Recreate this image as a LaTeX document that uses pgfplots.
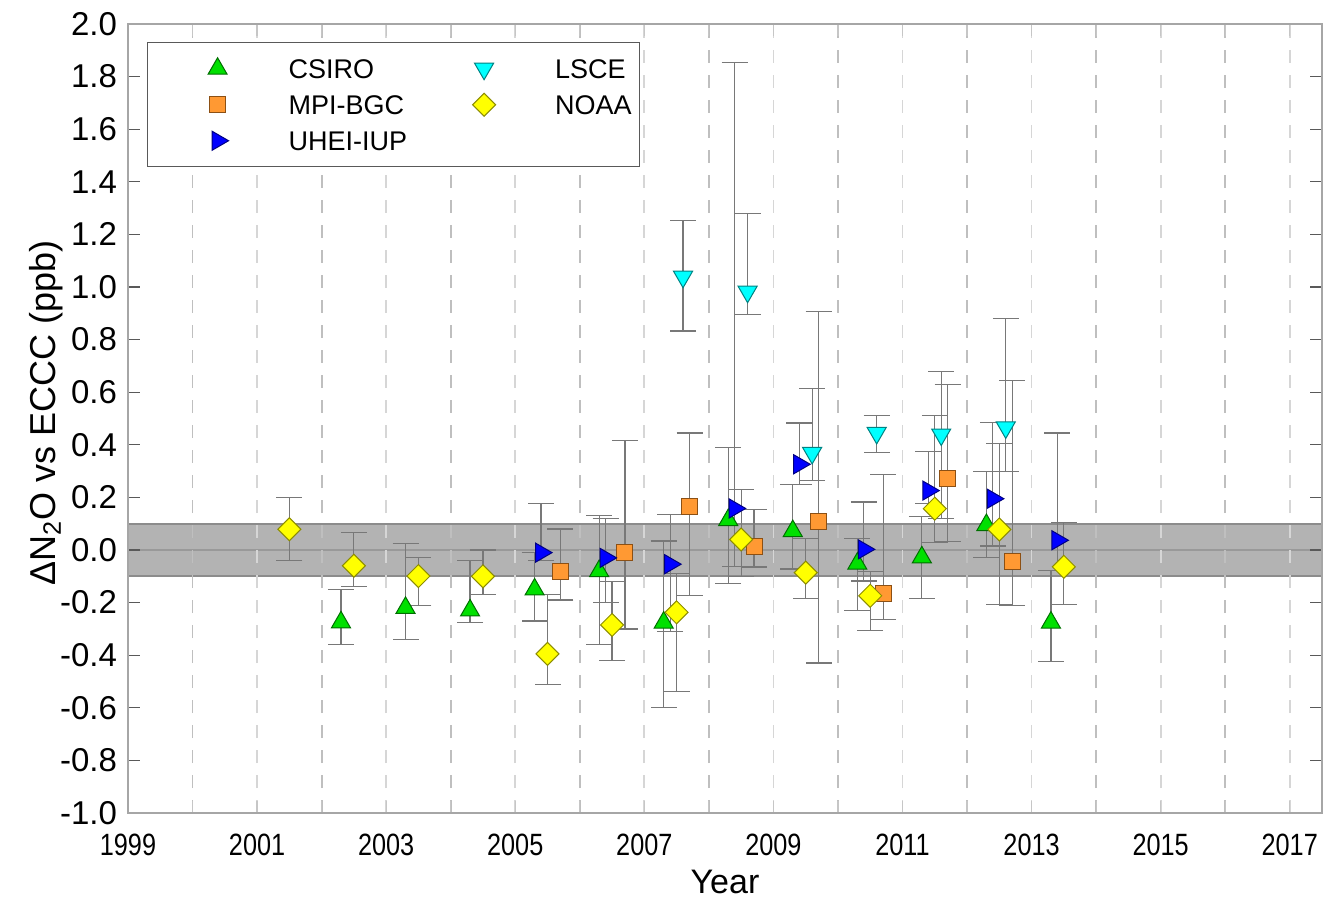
\documentclass[border=0pt]{standalone}
\usepackage{fontspec}
\setmainfont{Liberation Sans}
\newfontfamily\narrowfont[FakeStretch=0.82]{Liberation Sans}
\usepackage{pgfplots}
\pgfplotsset{compat=1.18}
\definecolor{csiro}{RGB}{0,224,0}
\definecolor{csirod}{RGB}{0,110,0}
\definecolor{mpi}{RGB}{255,153,51}
\definecolor{mpid}{RGB}{140,80,20}
\definecolor{uhei}{RGB}{0,0,255}
\definecolor{uheid}{RGB}{0,0,130}
\definecolor{lsce}{RGB}{0,255,255}
\definecolor{lsced}{RGB}{0,130,130}
\definecolor{noaa}{RGB}{255,255,0}
\definecolor{noaad}{RGB}{140,140,0}
\definecolor{band}{RGB}{179,179,179}
\definecolor{bandedge}{RGB}{140,140,140}
\definecolor{errgray}{RGB}{120,120,120}
\begin{document}
\begin{tikzpicture}
\begin{axis}[
  at={(0pt,0pt)}, anchor=south west,
  scale only axis, width=597pt, height=394.5pt,
  set layers,
  xmin=1999, xmax=2017.5, ymin=-1, ymax=2,
  xtick={1999,2001,2003,2005,2007,2009,2011,2013,2015,2017},
  xticklabels={1999,2001,2003,2005,2007,2009,2011,2013,2015,2017},
  extra x ticks={2000,2002,2004,2006,2008,2010,2012,2014,2016},
  extra x tick labels={},
  extra x tick style={grid=major, major grid style={gray!50, line width=0.9pt, dash pattern=on 6.5pt off 6pt}},
  ytick={-1,-0.8,-0.6,-0.4,-0.2,0,0.2,0.4,0.6,0.8,1,1.2,1.4,1.6,1.8,2},
  yticklabels={-1.0,-0.8,-0.6,-0.4,-0.2,0.0,0.2,0.4,0.6,0.8,1.0,1.2,1.4,1.6,1.8,2.0},
  /pgf/number format/assume math mode=true,
  tick align=inside,
  major tick length=6pt,
  xtick style={gray!45, line width=0.6pt},
  ytick style={gray!70!black, line width=0.6pt},
  xmajorgrids,
  major grid style={gray!32, line width=0.9pt, dash pattern=on 6.5pt off 6pt},
  axis line style={gray!70, line width=0.8pt},
  xticklabel style={font=\narrowfont\fontsize{15.4}{18}\selectfont, anchor=center, yshift=-16pt},
  yticklabel style={font=\fontsize{16.5}{19}\selectfont, anchor=east, xshift=-2pt},
  xlabel={Year},
  xlabel style={at={(axis description cs:0.5,-0.0875)}, anchor=center, font=\fontsize{17}{20}\selectfont},
  ylabel={ΔN\textsubscript{2}O vs ECCC (ppb)},
  ylabel style={at={(axis description cs:-0.0687,0.507)}, anchor=center, font=\fontsize{18}{21}\selectfont},
  legend columns=3, transpose legend,
  legend cell align=left,
  legend style={at={(axis description cs:0.0159,0.977)}, anchor=north west,
    draw=gray!70!black, line width=0.6pt, fill=white,
    inner xsep=4pt, inner ysep=4pt,
    font=\fontsize{13.5}{16}\selectfont, row sep=0pt,
    nodes={inner sep=0pt, text height=14pt, text depth=4pt},
    /tikz/every even column/.append style={column sep=7.5pt}},
  legend image code/.code={\path[draw=none] (-31pt,0pt) -- (35.5pt,0pt); \path[#1] plot coordinates {(0pt,0pt)};},
  legend entries={CSIRO,MPI-BGC,UHEI-IUP,LSCE,NOAA},
]
% shaded band
\addplot[on layer=axis background, fill=band, draw=none, forget plot]
  coordinates {(1999,-0.1) (2017.5,-0.1) (2017.5,0.1) (1999,0.1) (1999,-0.1)};
\addplot[on layer=axis background, bandedge, line width=0.9pt, forget plot]
  coordinates {(1999,0.1) (2017.5,0.1)};
\addplot[on layer=axis background, bandedge, line width=0.9pt, forget plot]
  coordinates {(1999,-0.1) (2017.5,-0.1)};
\addplot[on layer=axis background, gray!80, line width=0.6pt, forget plot]
  coordinates {(1999,0) (2017.5,0)};
% CSIRO
\addplot[only marks, mark=triangle*, mark size=5.5pt,
  mark options={fill=csiro, draw=csirod, line width=0.5pt},
  error bars/.cd, y dir=both, y explicit,
  error bar style={errgray, line width=0.6pt},
  error mark options={errgray, rotate=90, mark size=6.5pt, line width=0.6pt}]
  table[x=x, y=y, y error plus=ep, y error minus=em] {
x y ep em
2002.3 -0.275 0.125 0.085
2003.3 -0.22 0.244 0.12
2004.3 -0.23 0.19 0.045
2005.3 -0.15 0.14 0.12
2006.3 -0.08 0.21 0.28
2007.3 -0.276 0.31 0.324
2008.3 0.114 0.276 0.242
2009.3 0.072 0.178 0.144
2010.3 -0.052 0.095 0.178
2011.3 -0.028 0.155 0.155
2012.3 0.095 0.203 0.125
2013.3 -0.276 0.199 0.149
};
% MPI-BGC
\addplot[only marks, mark=square*, mark size=4pt,
  mark options={fill=mpi, draw=mpid, line width=0.5pt},
  error bars/.cd, y dir=both, y explicit,
  error bar style={errgray, line width=0.6pt},
  error mark options={errgray, rotate=90, mark size=6.5pt, line width=0.6pt}]
  table[x=x, y=y, y error plus=ep, y error minus=em] {
x y ep em
2005.7 -0.08 0.16 0.11
2006.7 -0.01 0.425 0.29
2007.7 0.165 0.28 0.339
2008.7 0.012 0.142 0.077
2009.7 0.11 0.796 0.54
2010.7 -0.164 0.451 0.099
2011.7 0.27 0.358 0.239
2012.7 -0.044 0.689 0.168
};
% UHEI-IUP
\addplot[only marks, mark=triangle*, mark size=5.5pt,
  mark options={fill=uhei, draw=uheid, line width=0.5pt, rotate=-90},
  error bars/.cd, y dir=both, y explicit,
  error bar style={errgray, line width=0.6pt},
  error mark options={errgray, rotate=90, mark size=6.5pt, line width=0.6pt}]
  table[x=x, y=y, y error plus=ep, y error minus=em] {
x y ep em
2005.4 -0.01 0.188 0.03
2006.4 -0.03 0.15 0.17
2007.4 -0.054 0.189 0.256
2008.4 0.158 1.697 0.222
2009.4 0.326 0.157 0.076
2010.4 0.0025 0.18 0.12
2011.4 0.226 0.148 0.049
2012.4 0.195 0.289 0.18
2013.4 0.037 0.408 0.114
};
% LSCE
\addplot[only marks, mark=triangle*, mark size=5.5pt,
  mark options={fill=lsce, draw=lsced, line width=0.5pt, rotate=180},
  error bars/.cd, y dir=both, y explicit,
  error bar style={errgray, line width=0.6pt},
  error mark options={errgray, rotate=90, mark size=6.5pt, line width=0.6pt}]
  table[x=x, y=y, y error plus=ep, y error minus=em] {
x y ep em
2007.6 1.039 0.214 0.206
2008.6 0.982 0.298 0.088
2009.6 0.369 0.245 0.104
2010.6 0.445 0.065 0.075
2011.6 0.439 0.241 0.319
2012.6 0.466 0.413 0.168
};
% NOAA
\addplot[only marks, mark=square*, mark size=4.07pt,
  mark options={fill=noaa, draw=noaad, line width=0.5pt, rotate=45},
  error bars/.cd, y dir=both, y explicit,
  error bar style={errgray, line width=0.6pt},
  error mark options={errgray, rotate=90, mark size=6.5pt, line width=0.6pt}]
  table[x=x, y=y, y error plus=ep, y error minus=em] {
x y ep em
2001.5 0.079 0.121 0.119
2002.5 -0.06 0.128 0.08
2003.5 -0.099 0.069 0.111
2004.5 -0.1 0.1 0.07
2005.5 -0.395 0.225 0.115
2006.5 -0.285 0.165 0.135
2007.5 -0.237 0.147 0.3
2008.5 0.04 0.19 0.14
2009.5 -0.086 0.131 0.099
2010.5 -0.174 0.091 0.131
2011.5 0.157 0.353 0.127
2012.5 0.078 0.327 0.284
2013.5 -0.064 0.169 0.142
};
\end{axis}
\path (-64pt,-43pt) rectangle (599.5pt,406.5pt);
\end{tikzpicture}
\end{document}
